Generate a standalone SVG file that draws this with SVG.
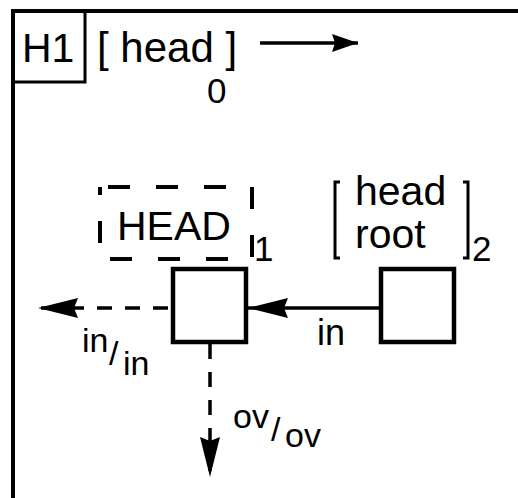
<svg xmlns="http://www.w3.org/2000/svg" width="518" height="498" viewBox="0 0 518 498">
<defs>
<style>
text{font-family:"Liberation Sans",Arial,sans-serif;fill:#000}
.big{font-size:41px}
.sm{font-size:35px}
.lb{font-size:34px}
.box{fill:#fff;stroke:#000;stroke-width:4.5}
.ln{fill:none;stroke:#000;stroke-width:3.5}
.dash{stroke-dasharray:15 13}
</style>
<marker id="ah" viewBox="0 0 40 20" refX="40" refY="10" markerWidth="40" markerHeight="20" markerUnits="userSpaceOnUse" orient="auto">
<path d="M0,0 L40,10 L0,20 L4,10 Z" fill="#000"/>
</marker>
<marker id="ahs" viewBox="0 0 26 18" refX="26" refY="9" markerWidth="26" markerHeight="18" markerUnits="userSpaceOnUse" orient="auto">
<path d="M0,0 L26,9 L0,18 L3,9 Z" fill="#000"/>
</marker>
</defs>
<g id="frame">
<path d="M13,498 V11 H518" fill="none" stroke="#000" stroke-width="4"/>
<rect x="13" y="11" width="72" height="71" fill="none" stroke="#000" stroke-width="3"/>
<text class="big" x="22" y="62">H1</text>
</g>
<g id="header">
<text class="big" x="97" y="62" style="font-size:42px">[ head ]</text>
<text class="sm" x="207" y="103">0</text>
<line class="ln" x1="260" y1="43" x2="358" y2="43" stroke-width="3.5" marker-end="url(#ahs)"/>
</g>
<g id="head-label">
<rect x="100" y="187" width="152" height="72" fill="none" stroke="#000" stroke-width="4" stroke-dasharray="22 26" stroke-dashoffset="40"/>
<text class="big" x="117" y="240">HEAD</text>
<text class="sm" x="254" y="261">1</text>
</g>
<g id="root-label">
<path d="M340,182 H335 V258 H340 M463,182 H468 V258 H463" fill="none" stroke="#000" stroke-width="3"/>
<text class="big" x="355" y="205">head</text>
<text class="big" x="355" y="248">root</text>
<text class="sm" x="472" y="261">2</text>
</g>
<g id="node1">
<rect class="box" x="173" y="269" width="73" height="73"/>
</g>
<g id="node2">
<rect class="box" x="381" y="269" width="73" height="73"/>
</g>
<g id="connectors">
<line class="ln" x1="379" y1="308" x2="248" y2="308" marker-end="url(#ah)"/>
<line class="ln dash" x1="168" y1="308" x2="38" y2="308" marker-end="url(#ah)"/>
<line class="ln dash" x1="210" y1="344" x2="210" y2="477" marker-end="url(#ah)"/>
</g>
<g id="labels">
<text class="lb" x="317" y="345" style="font-size:36px">in</text>
<text class="lb" x="82" y="352">in</text>
<text class="lb" x="109" y="365">/</text>
<text class="lb" x="123" y="375">in</text>
<text class="lb" x="233" y="428">ov</text>
<text class="lb" x="271" y="441">/</text>
<text class="lb" x="285" y="447">ov</text>
</g>
</svg>
